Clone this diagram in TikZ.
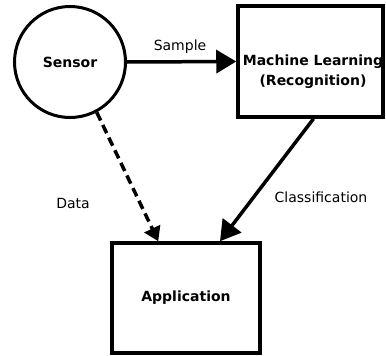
\documentclass[tikz,border=0pt]{standalone}
\usepackage{fontspec}
\setmainfont{DejaVu Sans}
\usetikzlibrary{arrows.meta,calc}
\begin{document}
\begin{tikzpicture}[x=1pt,y=-1pt,
  shapebox/.style={draw,line width=3.5pt,rectangle,inner sep=0pt},
  nodetext/.style={font=\fontsize{14}{20}\selectfont\bfseries,align=center,inner sep=0pt},
  edgelabel/.style={font=\fontsize{14}{17}\selectfont,inner sep=0pt},
  conn/.style={line width=3.5pt,-{Triangle[length=20pt,width=23pt]}},
  dconn/.style={line width=3.5pt,dash pattern=on 9pt off 5pt,-{Triangle[length=14pt,width=17pt]}}]
\useasboundingbox (0,0) rectangle (386,356);
\node[circle,draw,line width=3pt,minimum size=111pt,inner sep=0pt] (sensor) at (70,62) {};
\node[nodetext] (sensortext) at (70,62) {Sensor};
\node[shapebox,minimum width=145pt,minimum height=111pt] (ml) at (310.5,61.5) {};
\node[nodetext] (mltext) at (313,72) {Machine Learning\\(Recognition)};
\node[shapebox,minimum width=148pt,minimum height=110pt] (app) at (186,298) {};
\node[nodetext] (apptext) at (186,298) {Application};
\coordinate (dataend) at ($(app.north west)+(48,0)$);
\coordinate (classstart) at ($(ml.south)+(3,0)$);
\coordinate (classend) at ($(app.north)+(34,0)$);
\draw[conn] (sensor.east) -- (ml.west);
\draw[dconn] (sensor.-62) -- (dataend);
\draw[conn] (classstart) -- (classend);
\node[edgelabel] (samplelabel) at (180,47) {Sample};
\node[edgelabel] (datalabel) at (73,203) {Data};
\node[edgelabel] (classlabel) at (321,197) {Classification};
\end{tikzpicture}
\end{document}
